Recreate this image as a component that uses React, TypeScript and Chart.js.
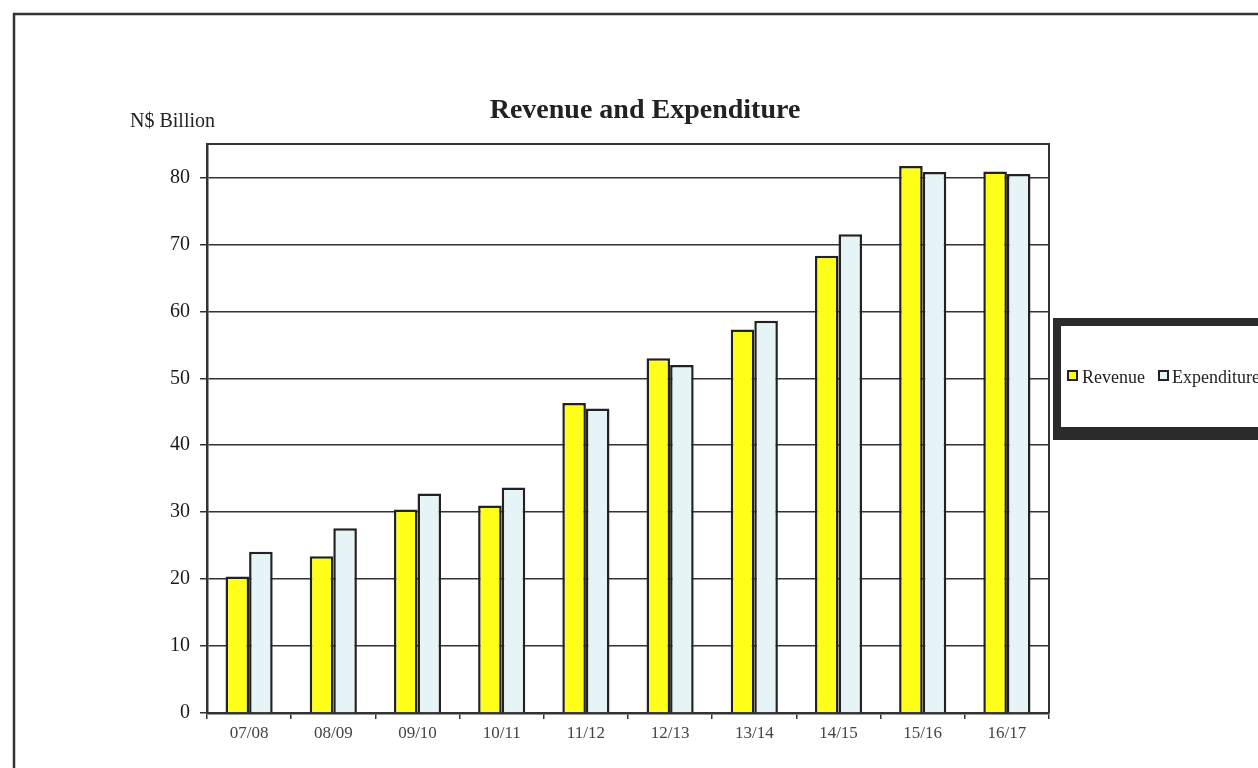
import React, { useEffect, useRef } from "react";
import { Chart, registerables } from "chart.js";

Chart.register(...registerables);

const categories = ["07/08", "08/09", "09/10", "10/11", "11/12", "12/13", "13/14", "14/15", "15/16", "16/17"];
const revenue = [20.4, 23.4, 30.4, 31.0, 46.3, 53.0, 57.3, 68.3, 81.7, 80.9];
const expenditure = [24.1, 27.6, 32.8, 33.7, 45.5, 52.0, 58.6, 71.5, 80.8, 80.5];
const seriesNames = ["Revenue", "Expenditure"];
const titleText = "Revenue and Expenditure";
const yAxisLabel = "N$ Billion";

const REV_COLOR = "#FFFF1A";
const EXP_COLOR = "#E6F4F7";
const EDGE = "#222222";
const SERIF = "'Liberation Serif', 'Times New Roman', serif";

const W = 1258;
const H = 768;

const framePlugin = {
  id: "frame",
  beforeDraw(chart: any) {
    const ctx = chart.ctx;
    ctx.save();
    ctx.fillStyle = "#ffffff";
    ctx.fillRect(0, 0, W, H);
    ctx.strokeStyle = "#333333";
    ctx.lineWidth = 2.5;
    ctx.strokeRect(14, 14, W + 40, H + 40);
    ctx.restore();
  },
  afterDraw(chart: any) {
    const ctx = chart.ctx;
    const a = chart.chartArea;
    ctx.save();
    // plot border top/right
    ctx.strokeStyle = "#333333";
    ctx.lineWidth = 2;
    ctx.beginPath();
    ctx.moveTo(a.left, a.top);
    ctx.lineTo(a.right, a.top);
    ctx.lineTo(a.right, a.bottom);
    ctx.stroke();

    // title
    ctx.fillStyle = "#222222";
    ctx.font = `bold 28px ${SERIF}`;
    ctx.textAlign = "center";
    ctx.textBaseline = "alphabetic";
    ctx.fillText(titleText, 645, 118);

    // y axis label
    ctx.font = `20px ${SERIF}`;
    ctx.textAlign = "left";
    ctx.fillText(yAxisLabel, 130, 127);

    // legend box
    ctx.fillStyle = "#2b2b2b";
    ctx.fillRect(1053, 318, 260, 122);
    ctx.fillStyle = "#ffffff";
    ctx.fillRect(1061, 326, 260, 101);

    const items = [
      { name: seriesNames[0], color: REV_COLOR, sx: 1068, tx: 1082 },
      { name: seriesNames[1], color: EXP_COLOR, sx: 1159, tx: 1172 },
    ];
    ctx.font = `18px ${SERIF}`;
    ctx.textBaseline = "alphabetic";
    for (const it of items) {
      ctx.fillStyle = it.color;
      ctx.fillRect(it.sx, 371, 9, 9);
      ctx.strokeStyle = "#222222";
      ctx.lineWidth = 2;
      ctx.strokeRect(it.sx, 371, 9, 9);
      ctx.fillStyle = "#222222";
      ctx.fillText(it.name, it.tx, 383);
    }
    ctx.restore();
  },
};

export default function App() {
  const ref = useRef<HTMLCanvasElement | null>(null);

  useEffect(() => {
    if (!ref.current) return;
    const chart = new Chart(ref.current, {
      type: "bar",
      data: {
        labels: categories,
        datasets: [
          {
            label: seriesNames[0],
            data: revenue,
            backgroundColor: REV_COLOR,
            borderColor: EDGE,
            borderWidth: 2.5,
            categoryPercentage: 0.56,
            barPercentage: 1,
          },
          {
            label: seriesNames[1],
            data: expenditure,
            backgroundColor: EXP_COLOR,
            borderColor: EDGE,
            borderWidth: 2.5,
            categoryPercentage: 0.56,
            barPercentage: 1,
          },
        ],
      },
      options: {
        responsive: false,
        animation: false,
        devicePixelRatio: 1,
        layout: { padding: { left: 0, top: 144, right: W - 1049, bottom: 0 } },
        plugins: {
          legend: { display: false },
          title: { display: false },
          tooltip: { enabled: false },
        },
        scales: {
          x: {
            afterFit: (s: any) => {
              s.height = H - 713;
            },
            grid: {
              drawOnChartArea: false,
              drawTicks: true,
              tickLength: 6,
              offset: true,
              color: "#333333",
              lineWidth: 1.5,
            },
            border: { display: true, color: "#333333", width: 2.5 },
            ticks: {
              color: "#444444",
              font: { family: SERIF, size: 17 },
              padding: 4,
              maxRotation: 0,
            },
          },
          y: {
            min: 0,
            max: 85,
            afterFit: (s: any) => {
              s.width = 207;
            },
            afterBuildTicks: (s: any) => {
              s.ticks = s.ticks.filter((t: any) => t.value % 10 === 0);
            },
            grid: {
              color: "#333333",
              lineWidth: 1.5,
              tickLength: 7,
              drawTicks: true,
            },
            border: { display: true, color: "#333333", width: 2.5 },
            ticks: {
              stepSize: 10,
              color: "#1a1a1a",
              font: { family: SERIF, size: 20 },
              padding: 10,
            },
          },
        },
      },
      plugins: [framePlugin],
    });
    return () => chart.destroy();
  }, []);

  return (
    <div style={{ position: "absolute", left: 0, top: 0, width: W, height: H, overflow: "hidden", background: "#fff" }}>
      <canvas ref={ref} width={W} height={H} style={{ display: "block", width: W, height: H }} />
    </div>
  );
}
